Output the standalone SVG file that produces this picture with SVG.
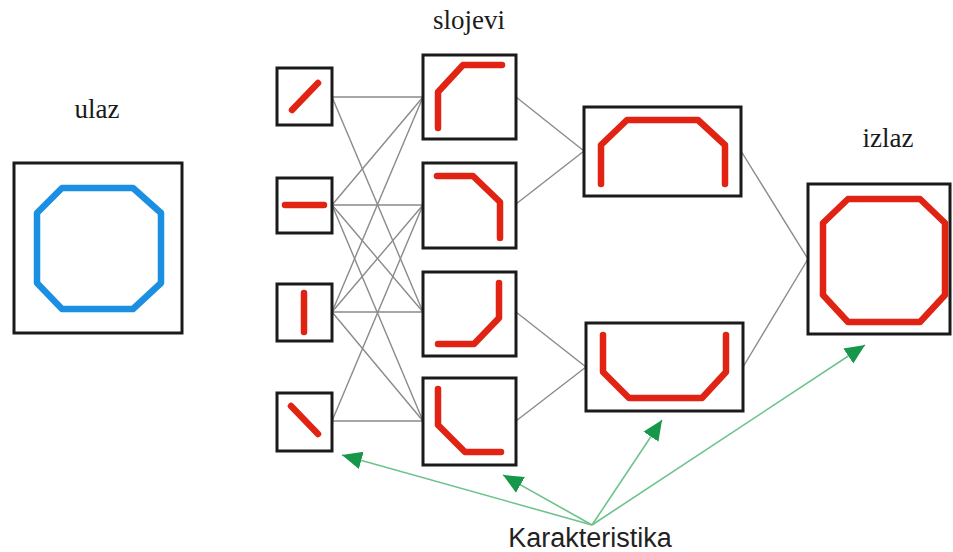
<svg xmlns="http://www.w3.org/2000/svg" width="953" height="552" viewBox="0 0 953 552">
<style>
.box{fill:#fff;stroke:#1a1a1a;stroke-width:3}
.red{fill:none;stroke:#e02313;stroke-width:6.5;stroke-linecap:round;stroke-linejoin:round}
.blue{fill:none;stroke:#1b8fe2;stroke-width:6.5;stroke-linejoin:round}
.conn line{stroke:#8a8a8a;stroke-width:1.4}
.green line{stroke:#6dc28c;stroke-width:1.6}
.lbl{font-family:"Liberation Serif","Times New Roman",serif;font-size:27px;fill:#1a1a1a;text-anchor:middle}
.sans{font-family:"Liberation Sans",Arial,sans-serif;font-size:27px;fill:#222;text-anchor:middle}
</style>
<defs>
<marker id="ah" markerUnits="userSpaceOnUse" markerWidth="22" markerHeight="20" refX="20" refY="10" orient="auto">
<path d="M0,1 L20,10 L0,19 Z" fill="#16974a"/>
</marker>
</defs>
<rect width="953" height="552" fill="#fff"/>

<g id="connectors">
<g class="conn">
<line x1="332" y1="97" x2="423" y2="97"/>
<line x1="332" y1="97" x2="423" y2="312"/>
<line x1="332" y1="205" x2="423" y2="97"/>
<line x1="332" y1="205" x2="423" y2="205"/>
<line x1="332" y1="205" x2="423" y2="312"/>
<line x1="332" y1="205" x2="423" y2="421"/>
<line x1="332" y1="312" x2="423" y2="97"/>
<line x1="332" y1="312" x2="423" y2="205"/>
<line x1="332" y1="312" x2="423" y2="312"/>
<line x1="332" y1="312" x2="423" y2="421"/>
<line x1="332" y1="421" x2="423" y2="205"/>
<line x1="332" y1="421" x2="423" y2="421"/>
<line x1="516" y1="97" x2="584" y2="151"/>
<line x1="516" y1="204" x2="584" y2="151"/>
<line x1="516" y1="312" x2="586" y2="367"/>
<line x1="516" y1="421" x2="586" y2="367"/>
<line x1="741" y1="151" x2="808" y2="259"/>
<line x1="743" y1="367" x2="808" y2="259"/>
</g>
<g class="green">
<line x1="592" y1="525" x2="342" y2="455" marker-end="url(#ah)"/>
<line x1="592" y1="525" x2="503" y2="475" marker-end="url(#ah)"/>
<line x1="592" y1="525" x2="662" y2="420" marker-end="url(#ah)"/>
<line x1="592" y1="525" x2="865" y2="345" marker-end="url(#ah)"/>
</g>
</g>

<g id="input">
<rect class="box" x="14" y="163" width="168" height="170"/>
<path class="blue" d="M62,188 L133,188 L161,213 L161,283 L133,309 L62,309 L37,283 L37,213 Z"/>
</g>

<g id="l1-1"><rect class="box" x="277" y="68" width="55" height="57"/><path class="red" d="M292,110 L318,83"/></g>
<g id="l1-2"><rect class="box" x="277" y="178" width="55" height="55"/><path class="red" d="M285,205 L324,205"/></g>
<g id="l1-3"><rect class="box" x="277" y="284" width="55" height="57"/><path class="red" d="M304,293 L304,332"/></g>
<g id="l1-4"><rect class="box" x="277" y="393" width="55" height="58"/><path class="red" d="M291,406 L318,434"/></g>

<g id="l2-1"><rect class="box" x="423" y="55" width="93" height="84"/><path class="red" d="M438,128 L438,92 L463,65 L502,65"/></g>
<g id="l2-2"><rect class="box" x="423" y="163" width="93" height="85"/><path class="red" d="M437,176 L473,176 L500,202 L500,238"/></g>
<g id="l2-3"><rect class="box" x="423" y="272" width="93" height="84"/><path class="red" d="M499,283 L499,318 L474,344 L438,344"/></g>
<g id="l2-4"><rect class="box" x="423" y="378" width="93" height="87"/><path class="red" d="M438,389 L438,425 L465,452 L501,452"/></g>

<g id="l3-1"><rect class="box" x="584" y="107" width="157" height="89"/><path class="red" d="M601,184 L601,145 L627,120 L698,120 L725,145 L725,184"/></g>
<g id="l3-2"><rect class="box" x="586" y="323" width="157" height="88"/><path class="red" d="M603,335 L603,372 L629,398 L702,398 L726,372 L726,335"/></g>

<g id="output">
<rect class="box" x="808" y="184" width="142" height="150"/>
<path class="red" d="M848,199 L920,199 L945,223 L945,295 L920,322 L848,322 L823,295 L823,223 Z"/>
</g>

<g id="labels">
<text class="lbl" x="97" y="118">ulaz</text>
<text class="lbl" x="469" y="29">slojevi</text>
<text class="lbl" x="888" y="147">izlaz</text>
<text class="sans" x="590" y="547">Karakteristika</text>
</g>
</svg>
